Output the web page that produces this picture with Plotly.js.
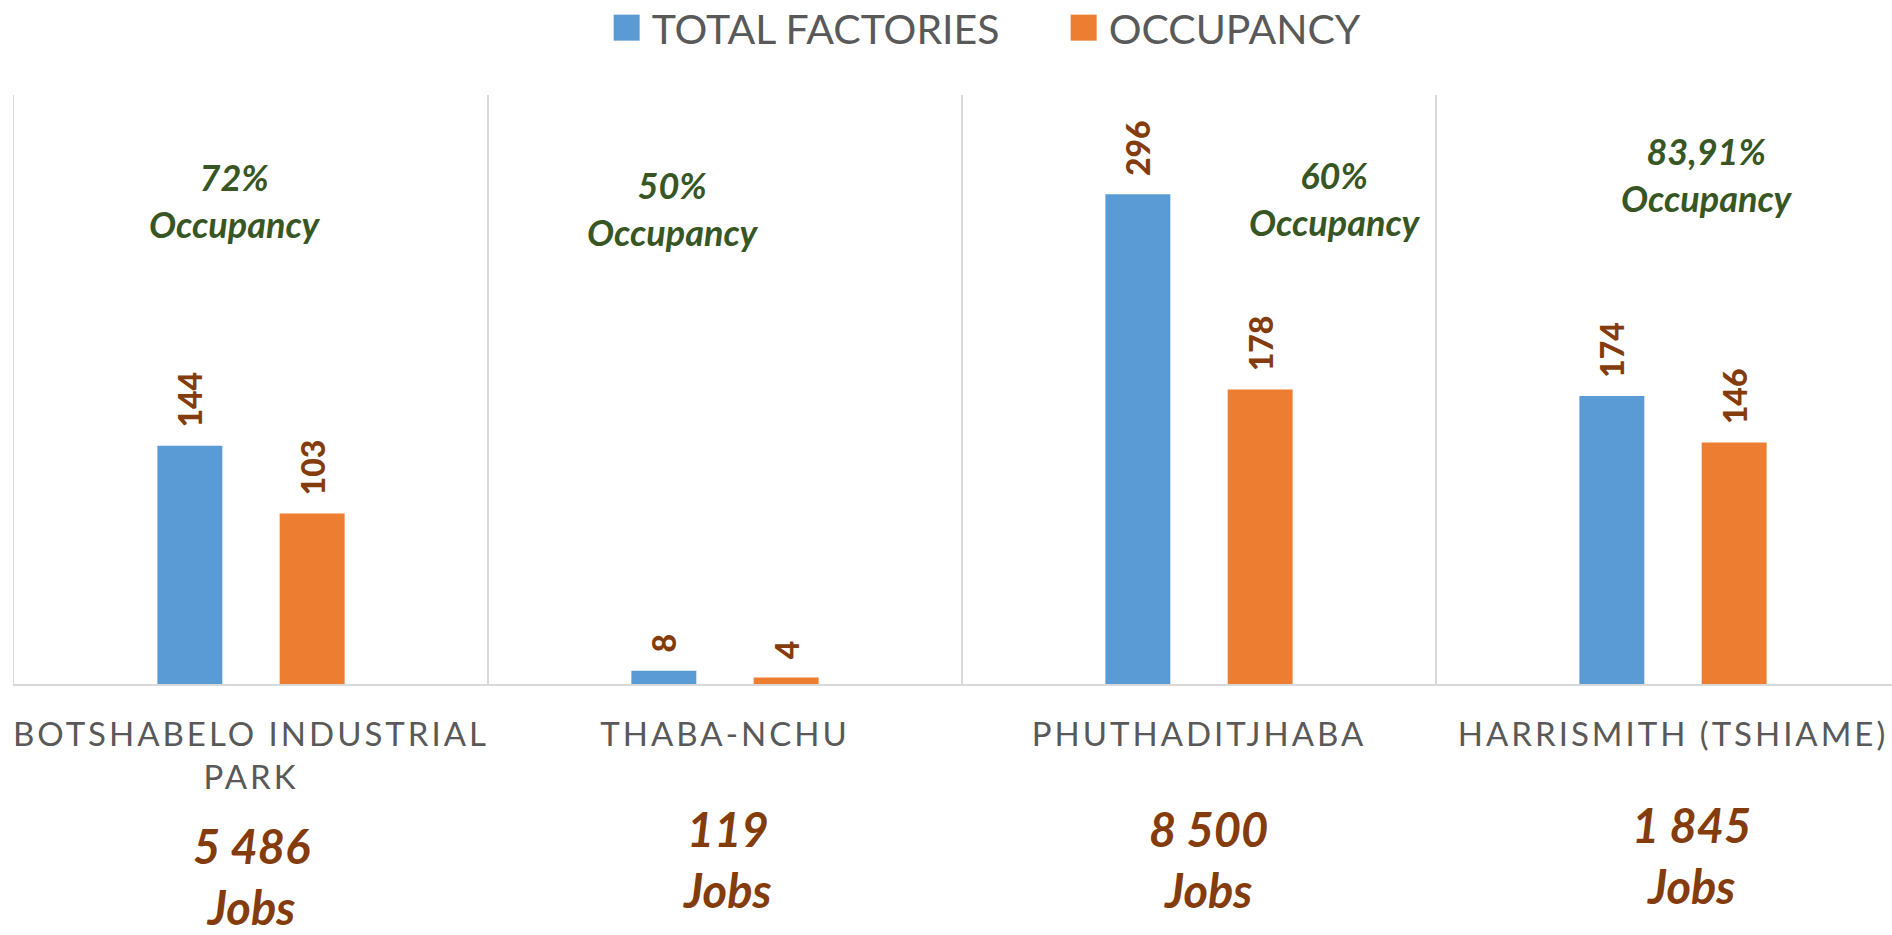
<!DOCTYPE html>
<html>
<head>
<meta charset="utf-8">
<script src="https://cdn.plot.ly/plotly-3.0.1.min.js"></script>
<style>
  html, body { margin: 0; padding: 0; background: #ffffff; }
  #chart { width: 1892px; height: 935px; }
  .xtick text { letter-spacing: 3px; }
</style>
</head>
<body>
<div id="chart"></div>
<script>
// ---- data ----
const categories = ["BOTSHABELO INDUSTRIAL<br>PARK", "THABA-NCHU", "PHUTHADITJHABA", "HARRISMITH (TSHIAME)"];
const totalFactories = [144, 8, 296, 174];
const occupancy = [103, 4, 178, 146];
const occupancyPct = ["72%", "50%", "60%", "83,91%"];
const jobs = ["5 486", "119", "8 500", "1 845"];
const seriesNames = ["TOTAL FACTORIES", "OCCUPANCY"];

// ---- styles ----
const blue = "#5B9BD5", orange = "#ED7D31", brown = "#843C0C", green = "#375623", grey = "#595959", grid = "#D9D9D9";
const fontFam = "Lato, 'Open Sans', sans-serif";

const barText = {family: fontFam, size: 32, color: brown, weight: 900};
const data = [
  {type: "bar", name: seriesNames[0], x: categories, y: totalFactories, marker: {color: blue},
   texttemplate: "\u00a0\u00a0%{y}", textposition: "outside", textangle: -90, constraintext: "none",
   cliponaxis: false, textfont: barText, hoverinfo: "skip"},
  {type: "bar", name: seriesNames[1], x: categories, y: occupancy, marker: {color: orange},
   texttemplate: "\u00a0\u00a0%{y}", textposition: "outside", textangle: -90, constraintext: "none",
   cliponaxis: false, textfont: barText, hoverinfo: "skip"}
];

// annotation placement (positions only)
const pctX = [-0.034, 0.890, 2.287, 3.072];
const pctY = [200, 208, 198, 174];      // pixel centres
const jobsX = [0, 0.006, 0.02, 0.04];
const jobsY = [877, 859, 859, 855];
const plotTop = 95, plotBottom = 684, plotH = plotBottom - plotTop;
const toPaper = py => (plotBottom - py) / plotH;

const annotations = [];
categories.forEach((c, i) => {
  annotations.push({
    xref: "x", yref: "paper", x: pctX[i], y: toPaper(pctY[i]), xanchor: "center", yanchor: "middle",
    text: "<b><i>" + occupancyPct[i] + "<br>Occupancy</i></b>", showarrow: false,
    font: {family: fontFam, size: 36, color: green, weight: 900}
  });
  annotations.push({
    xref: "x", yref: "paper", x: i + jobsX[i], y: toPaper(jobsY[i]), xanchor: "center", yanchor: "middle",
    text: "<b><i>" + jobs[i] + "<br>Jobs</i></b>", showarrow: false,
    font: {family: fontFam, size: 47, color: brown, weight: 900}
  });
});

const layout = {
  width: 1892, height: 935,
  paper_bgcolor: "#ffffff", plot_bgcolor: "#ffffff",
  margin: {l: 14, r: 0, t: plotTop, b: 935 - plotBottom, pad: 0},
  barmode: "group", bargap: 0.484, bargroupgap: 0.469,
  showlegend: true,
  legend: {orientation: "h", xref: "container", yref: "container", x: 0.318, xanchor: "left",
           y: 1 - 28 / 935, yanchor: "middle",
           font: {family: fontFam, size: 41, color: grey}, itemwidth: 40, traceorder: "normal",
           entrywidth: 402, entrywidthmode: "pixels"},
  xaxis: {
    type: "category", range: [-0.5, 3.462], tickson: "boundaries", showgrid: true, gridcolor: grid, gridwidth: 1.5,
    showline: true, linecolor: grid, linewidth: 2, ticks: "", ticklabelstandoff: 20,
    tickfont: {family: fontFam, size: 33, color: grey}, fixedrange: true
  },
  yaxis: {
    range: [0, 356], showgrid: false, zeroline: false, showticklabels: false,
    showline: true, linecolor: grid, linewidth: 1.5, ticks: "", fixedrange: true
  },
  annotations: annotations
};

Plotly.newPlot("chart", data, layout, {staticPlot: true, displayModeBar: false}).then(gd => {
  // enlarge the legend swatches to match the reference's square keys
  gd.querySelectorAll(".legendpoints path").forEach(p => {
    let n = p;
    while (n && !(n.classList && n.classList.contains("legend"))) {
      if (n.getAttribute && n.getAttribute("clip-path")) n.removeAttribute("clip-path");
      n = n.parentNode;
    }
    p.setAttribute("d", "M13,13H-13V-13H13Z");
  });
});
</script>
</body>
</html>
